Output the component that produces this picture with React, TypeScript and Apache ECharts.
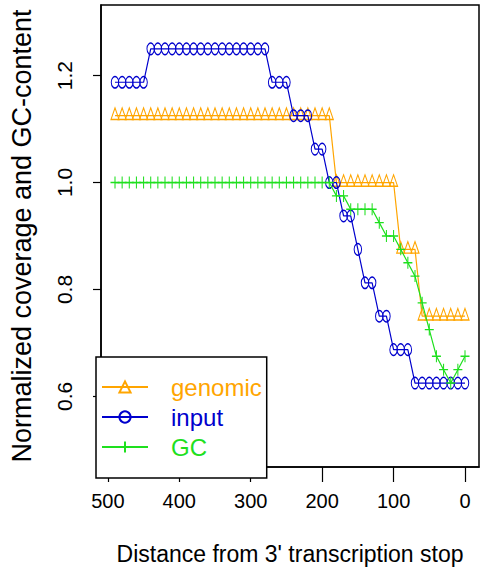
import React, { useEffect, useRef } from "react";
import * as echarts from "echarts";

const distances = [490, 480, 470, 460, 450, 440, 430, 420, 410, 400, 390, 380, 370, 360, 350, 340, 330, 320, 310, 300, 290, 280, 270, 260, 250, 240, 230, 220, 210, 200, 190, 180, 170, 160, 150, 140, 130, 120, 110, 100, 90, 80, 70, 60, 50, 40, 30, 20, 10, 0];

const genomic = [1.125, 1.125, 1.125, 1.125, 1.125, 1.125, 1.125, 1.125, 1.125, 1.125, 1.125, 1.125, 1.125, 1.125, 1.125, 1.125, 1.125, 1.125, 1.125, 1.125, 1.125, 1.125, 1.125, 1.125, 1.125, 1.125, 1.125, 1.125, 1.125, 1.125, 1.125, 1.0, 1.0, 1.0, 1.0, 1.0, 1.0, 1.0, 1.0, 1.0, 0.875, 0.875, 0.875, 0.75, 0.75, 0.75, 0.75, 0.75, 0.75, 0.75];

const input = [1.1875, 1.1875, 1.1875, 1.1875, 1.1875, 1.25, 1.25, 1.25, 1.25, 1.25, 1.25, 1.25, 1.25, 1.25, 1.25, 1.25, 1.25, 1.25, 1.25, 1.25, 1.25, 1.25, 1.1875, 1.1875, 1.1875, 1.125, 1.125, 1.125, 1.0625, 1.0625, 1.0, 1.0, 0.9375, 0.9375, 0.875, 0.8125, 0.8125, 0.75, 0.75, 0.6875, 0.6875, 0.6875, 0.625, 0.625, 0.625, 0.625, 0.625, 0.625, 0.625, 0.625];

const gc = [1.0, 1.0, 1.0, 1.0, 1.0, 1.0, 1.0, 1.0, 1.0, 1.0, 1.0, 1.0, 1.0, 1.0, 1.0, 1.0, 1.0, 1.0, 1.0, 1.0, 1.0, 1.0, 1.0, 1.0, 1.0, 1.0, 1.0, 1.0, 1.0, 1.0, 1.0, 0.975, 0.975, 0.95, 0.95, 0.95, 0.95, 0.925, 0.9, 0.9, 0.875, 0.85, 0.825, 0.775, 0.725, 0.675, 0.65, 0.625, 0.65, 0.675];

const xTicks = [0, 100, 200, 300, 400, 500];
const yTicks = [0.6, 0.8, 1.0, 1.2];

const seriesNames = ["genomic", "input", "GC"];
const colors = ["#FFA500", "#0000CD", "#1EE01E"];

const FONT = "'Liberation Sans', Arial, Helvetica, sans-serif";

const pairs = (ys: number[]) => distances.map((d, i) => [d, ys[i]]);

export default function App() {
  const ref = useRef<HTMLDivElement>(null);
  useEffect(() => {
    if (!ref.current) return;
    const chart = echarts.init(ref.current, undefined, { renderer: "svg" });
    chart.setOption({
      animation: false,
      backgroundColor: "#ffffff",
      textStyle: { fontFamily: FONT },
      grid: {
        left: 96,
        right: 5,
        top: 5,
        bottom: 93,
        show: true,
        borderColor: "#000",
        borderWidth: 1.5,
        backgroundColor: "transparent",
      },
      legend: {
        orient: "vertical",
        left: 96,
        top: 357,
        padding: [18, 5, 19, 5],
        itemWidth: 46,
        itemHeight: 14,
        itemGap: 6,
        borderColor: "#000",
        borderWidth: 1.5,
        backgroundColor: "#fff",
        textStyle: {
          fontFamily: FONT,
          fontSize: 24,
          lineHeight: 24,
          padding: [0, 0, 0, 18],
        },
        data: seriesNames.map((n, i) => ({ name: n, textStyle: { color: colors[i] } })),
      },
      xAxis: {
        type: "value",
        inverse: true,
        min: -19.6,
        max: 509.6,
        splitLine: { show: false },
        axisLine: { show: true, onZero: false, lineStyle: { color: "#000", width: 1.5 } },
        axisTick: { show: true, customValues: xTicks, length: 15, lineStyle: { color: "#000", width: 1.2 } },
        axisLabel: {
          customValues: xTicks,
          fontSize: 20,
          color: "#000",
          margin: 24,
          fontFamily: FONT,
        },
        name: "Distance from 3' transcription stop",
        nameLocation: "middle",
        nameGap: 75,
        nameTextStyle: { fontSize: 23, color: "#000", fontFamily: FONT },
      },
      yAxis: {
        type: "value",
        min: 0.468,
        max: 1.332,
        splitLine: { show: false },
        axisLine: { show: true, onZero: false, lineStyle: { color: "#000", width: 1.5 } },
        axisTick: { show: true, customValues: yTicks, length: 8, lineStyle: { color: "#000", width: 1.2 } },
        axisLabel: {
          customValues: yTicks,
          fontSize: 21,
          color: "#000",
          rotate: 90,
          margin: 26,
          fontFamily: FONT,
          formatter: (v: number) => v.toFixed(1),
        },
        name: "Normalized coverage and GC-content",
        nameLocation: "middle",
        nameGap: 66,
        nameTextStyle: { fontSize: 27, color: "#000", fontFamily: FONT },
      },
      series: [
        {
          name: seriesNames[0],
          type: "line",
          data: pairs(genomic),
          symbol: "triangle",
          symbolSize: [8, 11.5],
          symbolOffset: [0, -2],
          lineStyle: { color: colors[0], width: 1.2 },
          itemStyle: { color: "rgba(0,0,0,0)", borderColor: colors[0], borderWidth: 1.2 },
          z: 2,
        },
        {
          name: seriesNames[1],
          type: "line",
          data: pairs(input),
          symbol: "circle",
          symbolSize: [7.5, 11.5],
          lineStyle: { color: colors[1], width: 1.2 },
          itemStyle: { color: "rgba(0,0,0,0)", borderColor: colors[1], borderWidth: 1.2 },
          z: 3,
        },
        {
          name: seriesNames[2],
          type: "line",
          data: pairs(gc),
          symbol: "path://M0,6L10,6M5,0L5,12",
          symbolSize: [9, 12],
          symbolKeepAspect: false,
          lineStyle: { color: colors[2], width: 1.2 },
          itemStyle: { color: colors[2], borderColor: colors[2], borderWidth: 1.2 },
          z: 4,
        },
      ],
    });
    return () => chart.dispose();
  }, []);
  return (
    <div
      ref={ref}
      style={{ position: "fixed", left: 0, top: 0, width: 484, height: 570, background: "#fff" }}
    />
  );
}
